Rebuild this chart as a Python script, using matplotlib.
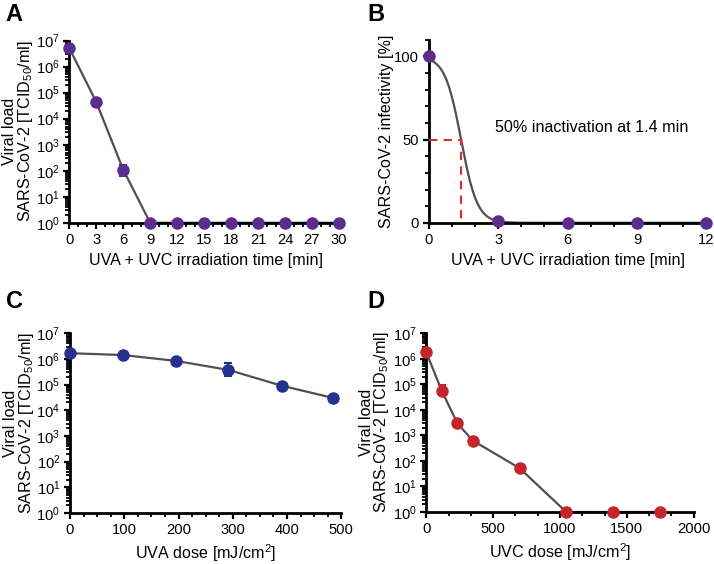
import numpy as np
import matplotlib
matplotlib.use("Agg")
import matplotlib.pyplot as plt
from matplotlib.ticker import AutoMinorLocator, LogLocator, NullFormatter

plt.rcParams["font.family"] = ["Liberation Sans", "DejaVu Sans"]
plt.rcParams["mathtext.fontset"] = "custom"
plt.rcParams["mathtext.rm"] = "Liberation Sans"
plt.rcParams["mathtext.it"] = "Liberation Sans"

# panel A: viral load vs UVA+UVC time
time_a = [0, 3, 6, 9, 12, 15, 18, 21, 24, 27, 30]
load_a = [5.2e6, 4.4e4, 1.1e2, 1, 1, 1, 1, 1, 1, 1, 1]
err_a_low = [0, 0, 45, 0, 0, 0, 0, 0, 0, 0, 0]
err_a_high = [0, 0, 60, 0, 0, 0, 0, 0, 0, 0, 0]

# panel B: infectivity (%) with sigmoid fit
time_b = [0, 3, 6, 9, 12]
infect_b = [100, 1, 0, 0, 0]
ec50_b = 1.4
slope_b = 0.35

# panel C: UVA dose
dose_c = [0, 98, 195, 292, 390, 485]
load_c = [1.65e6, 1.4e6, 8.3e5, 3.7e5, 9.0e4, 3.0e4]
err_c_low = [0, 0, 0, 1.5e5, 0, 0]
err_c_high = [0, 0, 0, 3.1e5, 0, 0]

# panel D: UVC dose
dose_d = [0, 115, 232, 347, 698, 1047, 1397, 1746]
load_d = [1.8e6, 5.7e4, 3.0e3, 630, 52, 1, 1, 1]
err_d_low = [0, 1.7e4, 0, 0, 0, 0, 0, 0]
err_d_high = [0, 4.0e4, 0, 0, 0, 0, 0, 0]

purple = "#5b2d8e"
navy = "#25318f"
red = "#c4262a"
line_grey = "#505050"
fs = 11.6
tick_fs = 10.6

fig = plt.figure(figsize=(7.14, 5.64), dpi=100)


def style_axes(ax):
    for side in ["top", "right"]:
        ax.spines[side].set_visible(False)
    for side in ["left", "bottom"]:
        ax.spines[side].set_linewidth(2)
    ax.tick_params(which="major", length=4.5, width=1.6, labelsize=tick_fs, direction="out", pad=2.5)
    ax.tick_params(which="minor", length=3, width=1.3, direction="out")


def log_yaxis(ax):
    ax.set_yscale("log")
    ax.set_ylim(1, 1e7)
    ax.yaxis.set_major_locator(LogLocator(base=10, numticks=10))
    ax.yaxis.set_minor_locator(LogLocator(base=10, subs=np.arange(2, 10), numticks=20))
    ax.yaxis.set_minor_formatter(NullFormatter())


def draw_series(ax, x, y, lo, hi, color):
    ax.plot(x, y, color=line_grey, lw=1.6, zorder=2, clip_on=False)
    ax.errorbar(x, y, yerr=[lo, hi], fmt="none", ecolor=color, elinewidth=1.5,
                capsize=3, capthick=1.5, zorder=3, clip_on=False)
    ax.plot(x, y, "o", color=color, ms=8, zorder=4, clip_on=False)


ylabel_log = "Viral load\nSARS-CoV-2 [TCID$_{50}$/ml]"

# A
ax_a = fig.add_axes([0.097, 0.605, 0.384, 0.323])
log_yaxis(ax_a)
draw_series(ax_a, time_a, load_a, err_a_low, err_a_high, purple)
ax_a.set_xlim(0, 30.5)
ax_a.set_xticks(time_a)
ax_a.xaxis.set_minor_locator(AutoMinorLocator(3))
ax_a.set_xlabel("UVA + UVC irradiation time [min]", fontsize=fs, labelpad=5)
ax_a.set_ylabel(ylabel_log, fontsize=fs, linespacing=0.9)
ax_a.yaxis.set_label_coords(-0.125, 0.5)
style_axes(ax_a)

# B
ax_b = fig.add_axes([0.6004, 0.605, 0.389, 0.3245])
t_fit = np.linspace(0, 12, 400)
fit_b = 100 / (1 + np.exp((t_fit - ec50_b) / slope_b))
ax_b.plot(t_fit, fit_b, color=line_grey, lw=1.6, zorder=2, clip_on=False)
ax_b.plot([0, ec50_b, ec50_b], [50, 50, 0], color="#d32f2f", lw=1.5, ls=(0, (4, 3)), zorder=3)
ax_b.plot(time_b, infect_b, "o", color=purple, ms=8, zorder=4, clip_on=False)
ax_b.set_xlim(0, 12)
ax_b.set_ylim(0, 110)
ax_b.set_xticks([0, 3, 6, 9, 12])
ax_b.set_yticks([0, 50, 100])
ax_b.xaxis.set_minor_locator(AutoMinorLocator(3))
ax_b.yaxis.set_minor_locator(AutoMinorLocator(5))
ax_b.text(7.05, 57, "50% inactivation at 1.4 min", fontsize=fs, ha="center", va="center")
ax_b.set_xlabel("UVA + UVC irradiation time [min]", fontsize=fs, labelpad=5)
ax_b.set_ylabel("SARS-CoV-2 infectivity [%]", fontsize=fs)
ax_b.yaxis.set_label_coords(-0.125, 0.5)
style_axes(ax_b)

# C
ax_c = fig.add_axes([0.098, 0.0904, 0.38, 0.319])
log_yaxis(ax_c)
draw_series(ax_c, dose_c, load_c, err_c_low, err_c_high, navy)
ax_c.set_xlim(0, 500)
ax_c.set_xticks([0, 100, 200, 300, 400, 500])
ax_c.xaxis.set_minor_locator(AutoMinorLocator(4))
ax_c.set_xlabel("UVA dose [mJ/cm$^2$]", fontsize=fs, labelpad=4)
ax_c.set_ylabel(ylabel_log, fontsize=fs, linespacing=0.9)
ax_c.yaxis.set_label_coords(-0.127, 0.5)
style_axes(ax_c)

# D
ax_d = fig.add_axes([0.597, 0.0922, 0.3745, 0.317])
log_yaxis(ax_d)
draw_series(ax_d, dose_d, load_d, err_d_low, err_d_high, red)
ax_d.set_xlim(0, 2000)
ax_d.set_xticks([0, 500, 1000, 1500, 2000])
ax_d.xaxis.set_minor_locator(AutoMinorLocator(3))
ax_d.set_xlabel("UVC dose [mJ/cm$^2$]", fontsize=fs, labelpad=4)
ax_d.set_ylabel(ylabel_log, fontsize=fs, linespacing=0.9)
ax_d.yaxis.set_label_coords(-0.13, 0.5)
style_axes(ax_d)

for letter, x, y in [("A", 0.008, 0.995), ("B", 0.515, 0.995),
                     ("C", 0.008, 0.485), ("D", 0.515, 0.485)]:
    fig.text(x, y, letter, fontsize=17, fontweight="bold", va="top", ha="left")

fig.savefig("out.png", dpi=100)
